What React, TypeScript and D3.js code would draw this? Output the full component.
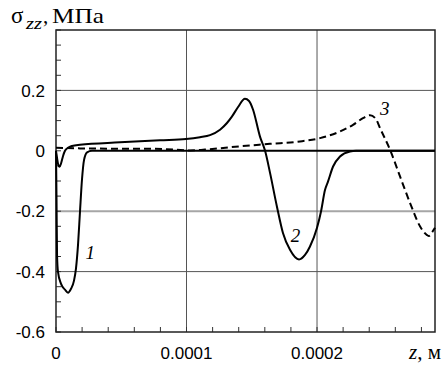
import React from "react";
import * as d3 from "d3";

// z in metres, sigma_zz in MPa
const curve1Z = [0, 0.004e-4, 0.008e-4, 0.015e-4, 0.038e-4, 0.069e-4, 0.092e-4, 0.115e-4, 0.138e-4, 0.153e-4, 0.169e-4, 0.184e-4, 0.199e-4, 0.215e-4, 0.238e-4, 0.276e-4, 2.904e-4];
const curve1S = [0, -0.16, -0.345, -0.4, -0.44, -0.46, -0.47, -0.457, -0.43, -0.39, -0.31, -0.2, -0.096, -0.03, -0.005, 0, 0];

const curve2Z = [0, 0.0077e-4, 0.0153e-4, 0.027e-4, 0.038e-4, 0.054e-4, 0.069e-4, 0.092e-4, 0.123e-4, 0.184e-4, 0.49e-4, 0.797e-4, 0.996e-4, 1.103e-4, 1.18e-4, 1.257e-4, 1.31e-4, 1.349e-4, 1.395e-4, 1.448e-4, 1.479e-4, 1.51e-4, 1.563e-4, 1.602e-4, 1.64e-4, 1.693e-4, 1.739e-4, 1.793e-4, 1.862e-4, 1.908e-4, 1.946e-4, 2.0e-4, 2.031e-4, 2.061e-4, 2.084e-4, 2.123e-4, 2.176e-4, 2.253e-4, 2.299e-4, 2.904e-4];
const curve2S = [0, -0.023, -0.043, -0.053, -0.043, -0.017, 0, 0.01, 0.016, 0.02, 0.028, 0.035, 0.039, 0.045, 0.052, 0.07, 0.092, 0.114, 0.145, 0.172, 0.165, 0.136, 0.047, 0, -0.073, -0.185, -0.272, -0.328, -0.36, -0.345, -0.317, -0.255, -0.2, -0.13, -0.102, -0.052, -0.019, -0.002, 0, 0];

const curve3Z = [0, 0.184e-4, 0.49e-4, 0.72e-4, 0.912e-4, 1.027e-4, 1.142e-4, 1.41e-4, 1.64e-4, 1.87e-4, 2.023e-4, 2.176e-4, 2.276e-4, 2.352e-4, 2.406e-4, 2.452e-4, 2.483e-4, 2.56e-4, 2.636e-4, 2.713e-4, 2.789e-4, 2.843e-4, 2.858e-4, 2.881e-4, 2.904e-4];
const curve3S = [0.01, 0.008, 0.007, 0.007, 0.004, 0.001, 0.004, 0.015, 0.023, 0.031, 0.042, 0.064, 0.086, 0.108, 0.118, 0.105, 0.075, 0.003, -0.085, -0.173, -0.25, -0.279, -0.282, -0.27, -0.255];

const xTickValues = [0, 0.0001, 0.0002];
const xTickLabels = ["0", "0.0001", "0.0002"];
const yTickValues = [0.2, 0, -0.2, -0.4, -0.6];
const yTickLabels = ["0.2", "0", "-0.2", "-0.4", "-0.6"];

const curveLabels = ["1", "2", "3"];
const curveLabelZ = [0.262e-4, 1.836e-4, 2.519e-4];
const curveLabelS = [-0.358, -0.302, 0.119];

export default function App() {
  const W = 447, H = 365;
  const L = 56, R = 435, T = 30, B = 332;
  const x = d3.scaleLinear().domain([0, 2.904e-4]).range([L, R]);
  const y = d3.scaleLinear().domain([-0.6, 0.4]).range([B, T]);
  const line = d3.line<[number, number]>().x(d => x(d[0])).y(d => y(d[1])).curve(d3.curveMonotoneX);
  const mk = (zs: number[], ss: number[]) => zs.map((z, i) => [z, ss[i]] as [number, number]);

  const xMinor = d3.range(0, 15).map(i => i * 0.2e-4).filter(v => v <= 2.904e-4);
  const yMinor = d3.range(-12, 9).map(i => i * 0.05);

  const gridStyle = (v: number) => v === -0.2 ? { stroke: "#a6a6a6", w: 2 } : { stroke: "#555", w: 1 };
  const serif = "Liberation Serif, Times New Roman, serif";

  return (
    <svg width={W} height={H} style={{ position: "absolute", left: 0, top: 0, background: "#fff" }}>
      {/* grid */}
      {[0.2, -0.2, -0.4].map(v => (
        <line key={"gy" + v} x1={L} x2={R} y1={y(v)} y2={y(v)} stroke={gridStyle(v).stroke} strokeWidth={gridStyle(v).w} />
      ))}
      {[0.0001, 0.0002].map(v => (
        <line key={"gx" + v} x1={x(v)} x2={x(v)} y1={T} y2={B} stroke="#555" strokeWidth={1} />
      ))}
      {/* minor ticks */}
      {xMinor.map((v, i) => (
        <line key={"xm" + i} x1={x(v)} x2={x(v)} y1={B} y2={B - 5} stroke="#333" strokeWidth={1} />
      ))}
      {yMinor.map((v, i) => (
        <line key={"ym" + i} x1={L} x2={L + 5} y1={y(v)} y2={y(v)} stroke="#333" strokeWidth={1} />
      ))}
      {/* frame */}
      <rect x={L} y={T} width={R - L} height={B - T} fill="none" stroke="#222" strokeWidth={1.5} />
      {/* curves */}
      <path d={line(mk(curve1Z, curve1S)) || ""} fill="none" stroke="#000" strokeWidth={2} />
      <path d={line(mk(curve2Z, curve2S)) || ""} fill="none" stroke="#000" strokeWidth={2} />
      <path d={line(mk(curve3Z, curve3S)) || ""} fill="none" stroke="#000" strokeWidth={2} strokeDasharray="7 4" />
      {/* tick labels */}
      {yTickValues.map((v, i) => (
        <text key={"yl" + i} x={45} y={y(v)} dy="0.36em" textAnchor="end" fontFamily="Liberation Sans, Arial, sans-serif" fontSize={17} fill="#000">{yTickLabels[i]}</text>
      ))}
      {xTickValues.map((v, i) => (
        <text key={"xl" + i} x={x(v)} y={359} textAnchor="middle" fontFamily="Liberation Sans, Arial, sans-serif" fontSize={17} fill="#000">{xTickLabels[i]}</text>
      ))}
      {/* axis titles */}
      <text x={11} y={23} fontFamily={serif} fontSize={23} fill="#000">σ</text>
      <text x={26} y={29} fontFamily={serif} fontSize={17} fontStyle="italic" fill="#000" textLength={16} lengthAdjust="spacingAndGlyphs">zz</text>
      <text x={43} y={23} fontFamily={serif} fontSize={21} fill="#000">,</text>
      <text x={52} y={23} fontFamily={serif} fontSize={21} fill="#000" textLength={52} lengthAdjust="spacingAndGlyphs">МПа</text>
      <text x={409} y={359} fontFamily={serif} fontSize={21} fill="#000">
        <tspan fontStyle="italic">z</tspan>, м
      </text>
      {/* curve labels */}
      {curveLabels.map((t, i) => (
        <text key={"cl" + i} x={x(curveLabelZ[i])} y={y(curveLabelS[i])} textAnchor="middle" fontFamily={serif} fontStyle="italic" fontSize={19} fill="#000">{t}</text>
      ))}
    </svg>
  );
}
